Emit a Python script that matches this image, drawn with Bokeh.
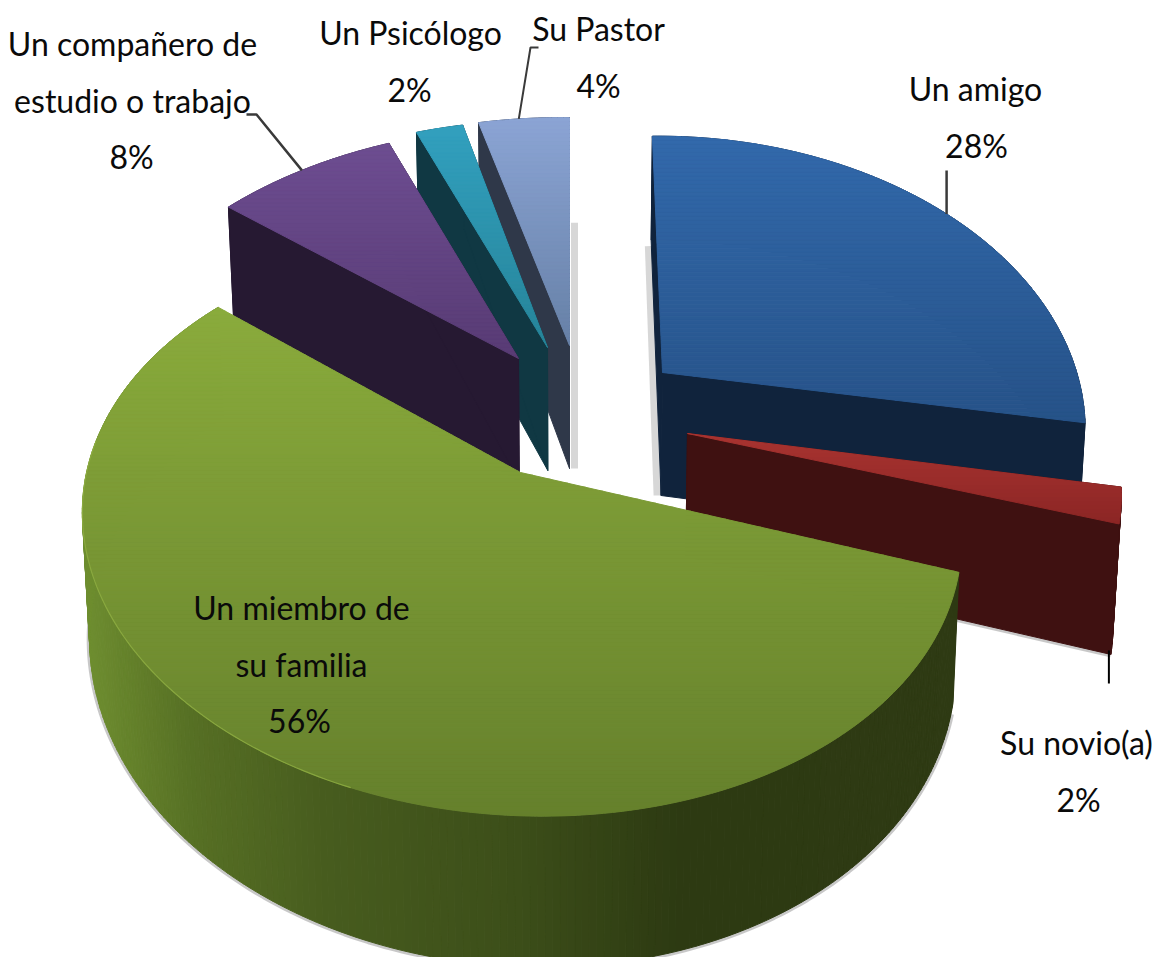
import math
from bokeh.plotting import figure
from bokeh.embed import file_html
from bokeh.resources import INLINE
from bokeh.core.properties import value

# ---- data -----------------------------------------------------------
categories = ["Un amigo", "Su novio(a)", "Un miembro de su familia",
              "Un compañero de estudio o trabajo", "Un Psicólogo", "Su Pastor"]
shares = [28, 2, 56, 8, 2, 4]
share_labels = ["28%", "2%", "56%", "8%", "2%", "4%"]
label_lines = [["Un amigo"], ["Su novio(a)"], ["Un miembro de", "su familia"],
               ["Un compañero de", "estudio o trabajo"], ["Un Psicólogo"], ["Su Pastor"]]

# ---- layout and style ------------------------------------------------
W, H = 1162, 957
VX = 569       # x that the pie's vertical edges lean towards
SHRINK = 0.985 # bottom face scale about VX
DEPTH = 123
K = 0.185
# apex x, apex y, a, tx, b, s per slice
geom = [
    (662, 372, 413, -12, 280, -4),
    (687, 433, 424, -12, 276, 0),
    (520, 472, 432, -8, 280, 8),
    (518, 358, 425, 5, 274, -7),
    (547, 347, 445, 11, 270, 3),
    (569, 345, 431, 0, 270, 5),
]
top_colors = [("#3269AB", "#265288"), ("#A83330", "#8B2524"), ("#8AAB3C", "#65802C"),
              ("#6D4D91", "#583B74"), ("#32A0BE", "#268499"), ("#8BA4D4", "#6680A6")]
face_colors = ["#10233C", "#3F1111", "#2E3A13", "#261932", "#103843", "#2F3849"]
green_side_stops = [(85, "#6F8F30"), (200, "#566F24"), (330, "#475C1E"),
                    (520, "#3C4E19"), (680, "#2D3A12"), (960, "#2E3A13")]
draw_order = [5, 4, 3, 0, 1, 2]
FONT = "Lato"
FS = "32px"
# label line centres: slice index -> (x, first y)
label_pos = {0: (975, 88), 1: (1076, 742), 2: (301, 607), 3: (132, 43), 4: (410, 32), 5: (598, 28)}
LINE_H = 56.5
pct_x = {0: 976, 1: 1078, 2: 299, 3: 131, 4: 409, 5: 598}


def hex2rgb(c):
    return tuple(int(c[i:i + 2], 16) for i in (1, 3, 5))


def lerp(c1, c2, t):
    a, b = hex2rgb(c1), hex2rgb(c2)
    t = max(0, min(1, t))
    return "#%02X%02X%02X" % tuple(round(a[i] + (b[i] - a[i]) * t) for i in range(3))


def stops_color(stops, x):
    if x <= stops[0][0]:
        return stops[0][1]
    for (x0, c0), (x1, c1) in zip(stops, stops[1:]):
        if x <= x1:
            return lerp(c0, c1, (x - x0) / (x1 - x0))
    return stops[-1][1]


# ---- angles from the shares -----------------------------------------
total = sum(shares)
starts, ends = [], []
acc = 0
for v in shares:
    starts.append(acc / total * 2 * math.pi)
    acc += v
    ends.append(acc / total * 2 * math.pi)


def top_pt(i, th):
    ax, ay, a, tx, b, s = geom[i]
    X, Y = math.sin(th), math.cos(th)
    w = 1 + K * Y
    return ax + (a * X + tx * Y) / w, ay + (-b * Y + s * X) / w


def bot_pt(i, th):
    x, y = top_pt(i, th)
    w = 1 + K * math.cos(th)
    return VX + (x - VX) * SHRINK, y + DEPTH / w


def apex_top(i):
    return geom[i][0], geom[i][1]


def apex_bot(i):
    x, y = apex_top(i)
    return VX + (x - VX) * SHRINK, y + DEPTH


def arc(i, fn, t0=None, t1=None, n=None):
    t0 = starts[i] if t0 is None else t0
    t1 = ends[i] if t1 is None else t1
    n = n or max(4, int((t1 - t0) * 60))
    return [fn(i, t0 + (t1 - t0) * k / n) for k in range(n + 1)]


def clip_band(poly, y0, y1):
    def clip(pts, keep, cross):
        out = []
        for j in range(len(pts)):
            p, q = pts[j], pts[(j + 1) % len(pts)]
            if keep(p):
                out.append(p)
            if keep(p) != keep(q):
                out.append(cross(p, q))
        return out

    def at(yv):
        return lambda p, q: (p[0] + (q[0] - p[0]) * (yv - p[1]) / (q[1] - p[1]), yv)

    res = clip(poly, lambda p: p[1] >= y0, at(y0))
    if res:
        res = clip(res, lambda p: p[1] <= y1, at(y1))
    return res


p = figure(width=W, height=H, output_backend="svg", toolbar_location=None,
           x_range=(0, W), y_range=(H, 0), min_border=0,
           background_fill_color="white", border_fill_color="white", outline_line_color=None)
p.axis.visible = False
p.grid.visible = False


def fill(polys, cols):
    p.patches(xs=[[q[0] for q in s] for s in polys], ys=[[q[1] for q in s] for s in polys],
              fill_color=cols, line_color=cols, line_width=1)


def shadow(pts, width=5, color="#9A9A9A", alpha=0.55):
    p.line([q[0] for q in pts], [q[1] for q in pts], line_color=color, line_width=width, line_alpha=alpha)


for i in draw_order:
    # soft shadows under the slice
    if i == 2:
        shadow(arc(i, bot_pt, math.radians(110), math.radians(275)), width=6)
    if i == 1:
        c = bot_pt(i, ends[i])
        shadow([(c[0] + (apex_bot(i)[0] - c[0]) * .5, c[1] + (apex_bot(i)[1] - c[1]) * .5), c], width=6)
    if i == 5:
        a0, a1 = top_pt(i, ends[i]), apex_bot(i)
        shadow([(a0[0] + 5, a0[1] + 105), (a1[0] + 5, a1[1])], width=7, alpha=.4)
    if i == 0:
        a0, a1 = top_pt(i, starts[i]), apex_bot(i)
        shadow([(a0[0] - 4, a0[1] + 110), (a1[0] - 4, a1[1])], width=7, alpha=.4)

    # outer wall
    strips, cols = [], []
    n = max(3, int((ends[i] - starts[i]) * 70))
    for k in range(n):
        t0 = starts[i] + (ends[i] - starts[i]) * k / n
        t1 = starts[i] + (ends[i] - starts[i]) * (k + 1) / n
        strips.append([top_pt(i, t0), top_pt(i, t1), bot_pt(i, t1), bot_pt(i, t0)])
        cols.append(stops_color(green_side_stops, bot_pt(i, t0)[0]) if i == 2 else face_colors[i])
    fill(strips, cols)

    # the two cut faces
    if i != 2:
        faces = [[top_pt(i, t), apex_top(i), apex_bot(i), bot_pt(i, t)] for t in (starts[i], ends[i])]
        fill(faces, [face_colors[i]] * 2)

    # top surface with a vertical gradient
    poly = [apex_top(i)] + arc(i, top_pt)
    ys = [q[1] for q in poly]
    y_min, y_max = min(ys), max(ys)
    bands, band_cols = [], []
    y = y_min
    while y < y_max:
        piece = clip_band(poly, y, y + 4)
        if len(piece) >= 3:
            bands.append(piece)
            band_cols.append(lerp(top_colors[i][0], top_colors[i][1], (y - y_min) / (y_max - y_min)))
        y += 4
    fill(bands, band_cols)

    if i == 2:  # light rim of the big slice
        rim = arc(i, top_pt, math.radians(200), math.radians(275))
        p.line([q[0] for q in rim], [q[1] for q in rim], line_color="#8FAE42", line_width=1.2, line_alpha=.8)

# ---- leader lines ---------------------------------------------------
LINE = "#3A3A3A"
l = top_pt(0, math.radians(51.7))
p.line([l[0], l[0]], [l[1], label_pos[0][1] + 82], line_color=LINE, line_width=2.5)
l = top_pt(5, math.radians(352))
p.line([label_pos[5][0] - 60, label_pos[5][0] - 68, l[0]], [47, 47, l[1]], line_color=LINE, line_width=2)
l = top_pt(3, math.radians(323.5))
p.line([label_pos[3][0] + 114, label_pos[3][0] + 124, l[0]], [114, 114, l[1]], line_color=LINE, line_width=2.5)
l = bot_pt(1, ends[1])
p.line([l[0] - 2, l[0] - 2], [l[1] - 4, 683], line_color="#000000", line_width=2)

# ---- labels ---------------------------------------------------------
tx, ty, tt = [], [], []
for i, lines in enumerate(label_lines):
    x0, y0 = label_pos[i]
    for j, s in enumerate(lines):
        tx.append(x0)
        ty.append(y0 + j * LINE_H)
        tt.append(s)
    tx.append(pct_x[i])
    ty.append(y0 + len(lines) * LINE_H)
    tt.append(share_labels[i])
p.text(x=tx, y=ty, text=tt, text_font=value(FONT), text_font_size=value(FS), text_color="#0A0A0A",
       text_align="center", text_baseline="middle")

open("out.html", "w").write(file_html(p, INLINE))
